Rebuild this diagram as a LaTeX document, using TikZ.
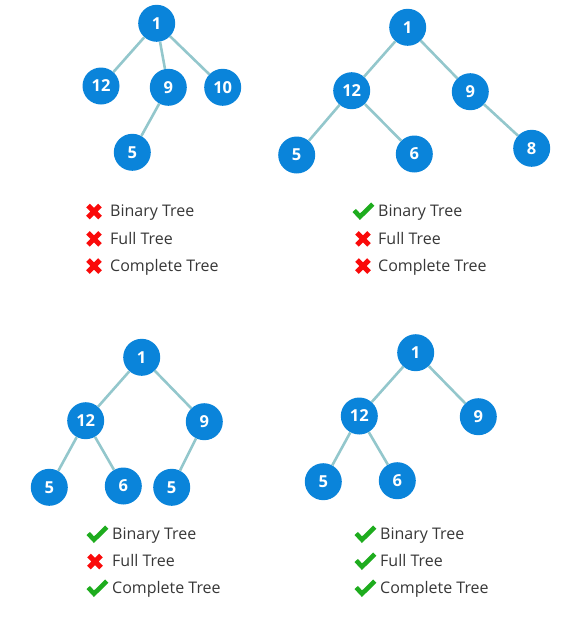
\documentclass[tikz,border=0pt]{standalone}
\usepackage{fontspec}
\setmainfont{Open Sans}
\definecolor{nodeblue}{RGB}{10,132,218}
\definecolor{edgeteal}{RGB}{147,199,204}
\definecolor{txtgray}{RGB}{55,55,55}
\definecolor{xred}{RGB}{250,10,10}
\definecolor{okgreen}{RGB}{30,172,30}
\tikzset{
  tnode/.style={circle, fill=nodeblue, draw=none, minimum size=37pt, inner sep=0pt,
    text=white, font=\fontsize{16.5}{16.5}\selectfont\bfseries},
  tedge/.style={draw=edgeteal, line width=2.6pt},
  lbl/.style={anchor=base west, inner sep=0pt, text=txtgray, font=\fontsize{16}{16}\selectfont},
  crossmk/.pic={\draw[xred, line width=5pt] (-6,-6) -- (6,6) (-6,6) -- (6,-6);},
  checkmk/.pic={\draw[okgreen, line width=4.6pt, line join=miter] (-8.8,-1) -- (-3,5.2) -- (9.8,-7.4);}
}
\begin{document}
\begin{tikzpicture}[x=1pt, y=-1pt]
\useasboundingbox (0,0) rectangle (565,627);
% Tree 1
\node[tnode] (a1) at (156.7,23.3) {1};
\node[tnode] (a12) at (101,86) {12};
\node[tnode] (a9) at (168.3,87.3) {9};
\node[tnode] (a10) at (222.7,87.3) {10};
\node[tnode] (a5) at (132.3,152.3) {5};
\draw[tedge] (a1) -- (a12);
\draw[tedge] (a1) -- (a9);
\draw[tedge] (a1) -- (a10);
\draw[tedge] (a9) -- (a5);
% Tree 2
\node[tnode] (b1) at (407.7,27.3) {1};
\node[tnode] (b12) at (351.7,90.7) {12};
\node[tnode] (b9) at (470.3,91.7) {9};
\node[tnode] (b5) at (296.7,155) {5};
\node[tnode] (b6) at (414.3,154) {6};
\node[tnode] (b8) at (531.7,148.3) {8};
\draw[tedge] (b1) -- (b12);
\draw[tedge] (b1) -- (b9);
\draw[tedge] (b12) -- (b5);
\draw[tedge] (b12) -- (b6);
\draw[tedge] (b9) -- (b8);
% Tree 3
\node[tnode] (c1) at (141.7,357.3) {1};
\node[tnode] (c12) at (85.7,420.7) {12};
\node[tnode] (c9) at (204.3,421.7) {9};
\node[tnode] (c5) at (49.3,487.3) {5};
\node[tnode] (c6) at (123.3,486) {6};
\node[tnode] (c5b) at (171.7,487.3) {5};
\draw[tedge] (c1) -- (c12);
\draw[tedge] (c1) -- (c9);
\draw[tedge] (c12) -- (c5);
\draw[tedge] (c12) -- (c6);
\draw[tedge] (c9) -- (c5b);
% Tree 4
\node[tnode] (d1) at (415.7,352.7) {1};
\node[tnode] (d12) at (359.3,416) {12};
\node[tnode] (d9) at (478.3,416.7) {9};
\node[tnode] (d5) at (323.3,481.7) {5};
\node[tnode] (d6) at (397.3,480.7) {6};
\draw[tedge] (d1) -- (d12);
\draw[tedge] (d1) -- (d9);
\draw[tedge] (d12) -- (d5);
\draw[tedge] (d12) -- (d6);
% Labels tree 1
\pic at (94,211.5) {crossmk};
\pic at (94,238.8) {crossmk};
\pic at (94,266) {crossmk};
\node[lbl] (la1) at (110,216.8) {Binary Tree};
\node[lbl] (la2) at (110,244.1) {Full Tree};
\node[lbl] (la3) at (110,271.3) {Complete Tree};
% Labels tree 2
\pic at (363,211.5) {checkmk};
\pic at (363,238.8) {crossmk};
\pic at (363,266) {crossmk};
\node[lbl] (lb1) at (378,216.8) {Binary Tree};
\node[lbl] (lb2) at (378,244.1) {Full Tree};
\node[lbl] (lb3) at (378,271.3) {Complete Tree};
% Labels tree 3
\pic at (97,534.5) {checkmk};
\pic at (95,561.5) {crossmk};
\pic at (97,588.5) {checkmk};
\node[lbl] (lc1) at (112,539.8) {Binary Tree};
\node[lbl] (lc2) at (112,566.8) {Full Tree};
\node[lbl] (lc3) at (112,593.8) {Complete Tree};
% Labels tree 4
\pic at (365,534.5) {checkmk};
\pic at (365,561.5) {checkmk};
\pic at (365,588.5) {checkmk};
\node[lbl] (ld1) at (380,539.8) {Binary Tree};
\node[lbl] (ld2) at (380,566.8) {Full Tree};
\node[lbl] (ld3) at (380,593.8) {Complete Tree};
\end{tikzpicture}
\end{document}
